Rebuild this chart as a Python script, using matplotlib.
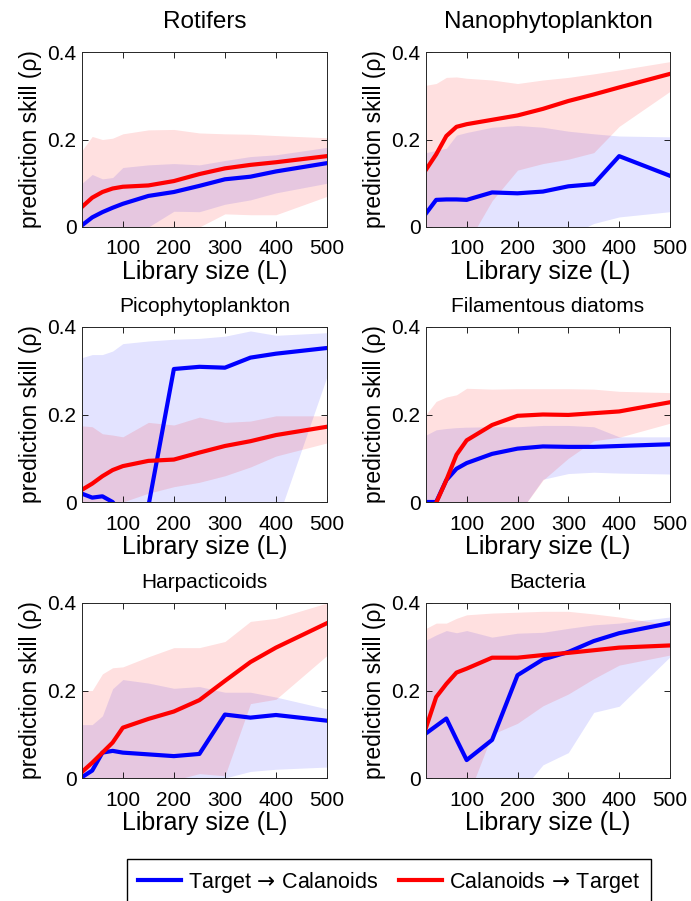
import matplotlib
matplotlib.use('Agg')
import matplotlib.pyplot as plt
import numpy as np

plt.rcParams['font.family'] = ['Liberation Sans', 'DejaVu Sans']

# library sizes
L = [20, 40, 60, 80, 100, 150, 200, 250, 300, 350, 400, 500]

titles = ['Rotifers', 'Nanophytoplankton', 'Picophytoplankton',
          'Filamentous diatoms', 'Harpacticoids', 'Bacteria']
series_names = [r'Target $\!\rightarrow\!$ Calanoids', r'Calanoids $\!\rightarrow\!$ Target']

# Target -> Calanoids (blue): mean, lower, upper
rot_tc = [0.004, 0.022, 0.034, 0.044, 0.053, 0.071, 0.080, 0.094, 0.109, 0.115, 0.127, 0.146]
rot_tc_lo = [-0.15, -0.12, -0.1, -0.08, -0.05, 0.0, 0.036, 0.035, 0.052, 0.062, 0.078, 0.10]
rot_tc_hi = [0.10, 0.12, 0.11, 0.113, 0.136, 0.142, 0.145, 0.142, 0.152, 0.161, 0.165, 0.182]
nano_tc = [0.031, 0.062, 0.063, 0.063, 0.062, 0.079, 0.077, 0.081, 0.093, 0.098, 0.162, 0.117]
nano_tc_lo = [-0.2, -0.18, -0.15, -0.12, -0.1, -0.08, -0.06, -0.04, -0.02, 0.008, 0.023, 0.035]
nano_tc_hi = [0.17, 0.175, 0.18, 0.21, 0.216, 0.228, 0.232, 0.228, 0.219, 0.213, 0.208, 0.206]
pico_tc = [0.019, 0.010, 0.013, 0.0, -0.03, -0.01, 0.304, 0.309, 0.307, 0.330, 0.339, 0.352]
pico_tc_lo = [-0.3, -0.3, -0.3, -0.3, -0.3, -0.3, -0.25, -0.2, -0.15, -0.1, -0.05, 0.287]
pico_tc_hi = [0.33, 0.337, 0.337, 0.345, 0.362, 0.368, 0.372, 0.374, 0.379, 0.391, 0.381, 0.387]
fila_tc = [0.0, 0.0, 0.05, 0.076, 0.089, 0.11, 0.122, 0.127, 0.126, 0.126, 0.128, 0.132]
fila_tc_lo = [-0.2, -0.2, -0.18, -0.15, -0.12, -0.08, -0.03, 0.052, 0.065, 0.068, 0.066, 0.064]
fila_tc_hi = [0.153, 0.165, 0.168, 0.17, 0.171, 0.172, 0.172, 0.175, 0.175, 0.172, 0.149, 0.149]
harp_tc = [0.002, 0.017, 0.058, 0.062, 0.058, 0.054, 0.05, 0.055, 0.145, 0.138, 0.144, 0.131]
harp_tc_lo = [-0.2, -0.2, -0.18, -0.15, -0.12, -0.1, -0.08, -0.04, 0.0, 0.015, 0.02, 0.025]
harp_tc_hi = [0.122, 0.122, 0.142, 0.204, 0.225, 0.217, 0.205, 0.209, 0.196, 0.196, 0.185, 0.158]
bact_tc = [0.102, 0.119, 0.136, 0.088, 0.041, 0.087, 0.235, 0.271, 0.288, 0.313, 0.331, 0.354]
bact_tc_lo = [-0.2, -0.2, -0.18, -0.15, -0.12, -0.08, -0.04, 0.03, 0.058, 0.15, 0.164, 0.277]
bact_tc_hi = [0.315, 0.327, 0.337, 0.332, 0.337, 0.322, 0.331, 0.333, 0.342, 0.35, 0.354, 0.368]

# Calanoids -> Target (red): mean, lower, upper
rot_ct = [0.046, 0.067, 0.080, 0.088, 0.092, 0.095, 0.105, 0.121, 0.134, 0.142, 0.148, 0.162]
rot_ct_lo = [-0.1, -0.08, -0.07, -0.06, -0.05, -0.02, -0.01, 0.0, 0.03, 0.028, 0.028, 0.07]
rot_ct_hi = [0.175, 0.207, 0.2, 0.203, 0.213, 0.222, 0.223, 0.215, 0.213, 0.212, 0.209, 0.204]
nano_ct = [0.131, 0.166, 0.208, 0.229, 0.235, 0.245, 0.255, 0.270, 0.288, 0.303, 0.319, 0.350]
nano_ct_lo = [-0.15, -0.12, -0.09, -0.06, -0.04, 0.06, 0.13, 0.145, 0.155, 0.17, 0.23, 0.31]
nano_ct_hi = [0.324, 0.328, 0.342, 0.343, 0.34, 0.336, 0.328, 0.336, 0.342, 0.35, 0.359, 0.378]
pico_ct = [0.028, 0.042, 0.059, 0.073, 0.082, 0.094, 0.097, 0.113, 0.128, 0.139, 0.153, 0.172]
pico_ct_lo = [-0.03, -0.02, -0.015, -0.008, 0.0, 0.02, 0.035, 0.045, 0.06, 0.08, 0.105, 0.135]
pico_ct_hi = [0.174, 0.172, 0.156, 0.153, 0.149, 0.182, 0.176, 0.194, 0.182, 0.185, 0.197, 0.197]
fila_ct = [-0.02, -0.002, 0.05, 0.108, 0.141, 0.176, 0.197, 0.2, 0.199, 0.203, 0.207, 0.228]
fila_ct_lo = [-0.2, -0.2, -0.18, -0.15, -0.12, -0.08, -0.03, 0.05, 0.1, 0.14, 0.148, 0.18]
fila_ct_hi = [0.2, 0.23, 0.24, 0.245, 0.26, 0.258, 0.259, 0.259, 0.259, 0.258, 0.253, 0.25]
harp_ct = [0.014, 0.035, 0.058, 0.081, 0.115, 0.135, 0.152, 0.178, 0.222, 0.265, 0.298, 0.354]
harp_ct_lo = [-0.1, -0.08, -0.06, -0.04, -0.03, -0.02, -0.005, 0.01, 0.005, 0.17, 0.18, 0.28]
harp_ct_hi = [0.2, 0.2, 0.238, 0.252, 0.254, 0.277, 0.298, 0.298, 0.312, 0.358, 0.365, 0.4]
bact_ct = [0.115, 0.185, 0.215, 0.241, 0.25, 0.275, 0.275, 0.281, 0.286, 0.292, 0.298, 0.303]
bact_ct_lo = [-0.15, -0.12, -0.1, -0.06, -0.05, 0.1, 0.125, 0.165, 0.192, 0.227, 0.258, 0.281]
bact_ct_hi = [0.342, 0.354, 0.354, 0.365, 0.373, 0.377, 0.379, 0.381, 0.381, 0.375, 0.368, 0.35]

panels = [
    (rot_tc, rot_tc_lo, rot_tc_hi, rot_ct, rot_ct_lo, rot_ct_hi),
    (nano_tc, nano_tc_lo, nano_tc_hi, nano_ct, nano_ct_lo, nano_ct_hi),
    (pico_tc, pico_tc_lo, pico_tc_hi, pico_ct, pico_ct_lo, pico_ct_hi),
    (fila_tc, fila_tc_lo, fila_tc_hi, fila_ct, fila_ct_lo, fila_ct_hi),
    (harp_tc, harp_tc_lo, harp_tc_hi, harp_ct, harp_ct_lo, harp_ct_hi),
    (bact_tc, bact_tc_lo, bact_tc_hi, bact_ct, bact_ct_lo, bact_ct_hi),
]

W, H = 691, 901
fig = plt.figure(figsize=(W / 100, H / 100), dpi=100)

col_x = [82, 426]
col_w = [245, 244]
row_top = [52, 327, 603]
row_h = 175

for i, (tc, tc_lo, tc_hi, ct, ct_lo, ct_hi) in enumerate(panels):
    r, c = divmod(i, 2)
    ax = fig.add_axes([col_x[c] / W, 1 - (row_top[r] + row_h) / H,
                       col_w[c] / W, row_h / H])
    ax.fill_between(L, tc_lo, tc_hi, color='blue', alpha=0.11, lw=0)
    ax.fill_between(L, ct_lo, ct_hi, color='red', alpha=0.12, lw=0)
    ax.plot(L, tc, color='blue', lw=3, label=series_names[0])
    ax.plot(L, ct, color='red', lw=3, label=series_names[1])
    ax.set_xlim(20, 500)
    ax.set_ylim(0, 0.4)
    ax.set_xticks([100, 200, 300, 400, 500])
    ax.set_yticks([0, 0.2, 0.4])
    ax.set_yticklabels(['0', '0.2', '0.4'])
    ax.tick_params(direction='in', top=True, right=True, length=4,
                   width=0.6, labelsize=15)
    ax.tick_params(axis='x', pad=9)
    ax.tick_params(axis='y', pad=4)
    for s in ax.spines.values():
        s.set_linewidth(0.7)
        s.set_color('0.15')
    if r == 0:
        ax.set_title(titles[i], fontsize=17.5, pad=17)
    else:
        ax.set_title(titles[i], fontsize=15, pad=11)
    ax.set_xlabel('Library size (L)', fontsize=18, labelpad=1)
    ax.set_ylabel('prediction skill (\u03c1)', fontsize=16.5, labelpad=4)
    if i == 0:
        handles, labels = ax.get_legend_handles_labels()

fig.legend(handles, labels, loc='upper center',
           bbox_to_anchor=((129 + 649) / 2 / W, 1 - 859 / H),
           borderaxespad=0, ncol=2, fontsize=15.5, frameon=True,
           fancybox=False, edgecolor='black', framealpha=1,
           handlelength=2.0, handletextpad=0.3, columnspacing=1.0,
           borderpad=0.5)

fig.savefig('out.png', dpi=100)
